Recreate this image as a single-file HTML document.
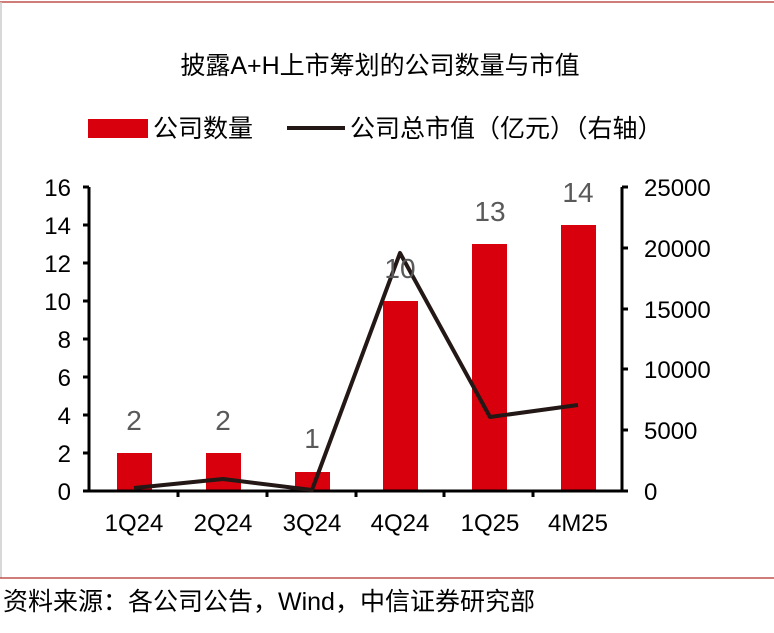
<!DOCTYPE html>
<html><head><meta charset="utf-8"><style>
body{margin:0;background:#fff;}
svg{display:block;font-family:"Liberation Sans","Noto Sans CJK SC",sans-serif;}
</style></head><body>
<svg width="774" height="633" viewBox="0 0 774 633">
<rect x="0" y="0" width="774" height="633" fill="#fff"/>
<line x1="0" y1="2" x2="774" y2="2" stroke="#c0504d" stroke-width="1.5"/>
<line x1="1" y1="2" x2="1" y2="578" stroke="#ccc" stroke-width="1.5"/>
<line x1="0" y1="578" x2="774" y2="578" stroke="#c0504d" stroke-width="1.5"/>
<text x="380" y="74" font-size="25" text-anchor="middle" fill="#000">披露A+H上市筹划的公司数量与市值</text>
<rect x="88" y="119" width="60" height="19" fill="#d9000d"/>
<text x="153" y="137" font-size="25" fill="#000">公司数量</text>
<line x1="287" y1="128" x2="345" y2="128" stroke="#231815" stroke-width="4"/>
<text x="350" y="137" font-size="25" fill="#000">公司总市值（亿元）（右轴）</text>
<g fill="#d9000d">
<rect x="117" y="453" width="35" height="38"/>
<rect x="206" y="453" width="35" height="38"/>
<rect x="295" y="472" width="35" height="19"/>
<rect x="383" y="301" width="35" height="190"/>
<rect x="472" y="244" width="35" height="247"/>
<rect x="561" y="225" width="35" height="266"/>
</g>
<g stroke="#000" stroke-width="3" fill="none">
<line x1="89" y1="187" x2="89" y2="491"/>
<line x1="622" y1="187" x2="622" y2="491"/>
<line x1="89" y1="491" x2="622" y2="491"/>
<path d="M83 187H89M83 225H89M83 263H89M83 301H89M83 339H89M83 377H89M83 415H89M83 453H89M83 491H89"/>
<path d="M622 187H628M622 248H628M622 309H628M622 369H628M622 430H628M622 491H628"/>
<path d="M178 491V497M267 491V497M356 491V497M444 491V497M533 491V497"/>
</g>
<polyline points="134,488 223,479 312,490 400,253 490,417 578,405" fill="none" stroke="#231815" stroke-width="4" stroke-linejoin="round"/>
<g font-size="24" fill="#000" text-anchor="end">
<text x="71" y="196">16</text><text x="71" y="234">14</text><text x="71" y="272">12</text>
<text x="71" y="310">10</text><text x="71" y="348">8</text><text x="71" y="386">6</text>
<text x="71" y="424">4</text><text x="71" y="462">2</text><text x="71" y="500">0</text>
</g>
<g font-size="24" fill="#000" text-anchor="start">
<text x="644" y="196">25000</text><text x="644" y="257">20000</text><text x="644" y="318">15000</text>
<text x="644" y="378">10000</text><text x="644" y="439">5000</text><text x="644" y="500">0</text>
</g>
<g font-size="24" fill="#000" text-anchor="middle">
<text x="134" y="531">1Q24</text><text x="223" y="531">2Q24</text><text x="312" y="531">3Q24</text>
<text x="400" y="531">4Q24</text><text x="490" y="531">1Q25</text><text x="578" y="531">4M25</text>
</g>
<g font-size="28" fill="#595959" text-anchor="middle">
<text x="134" y="430">2</text><text x="223" y="430">2</text><text x="312" y="448">1</text>
<text x="400" y="278">10</text><text x="490" y="221">13</text><text x="578" y="202">14</text>
</g>
<text x="3" y="610" font-size="25" fill="#000">资料来源：各公司公告，Wind，中信证券研究部</text>
</svg>
</body></html>
